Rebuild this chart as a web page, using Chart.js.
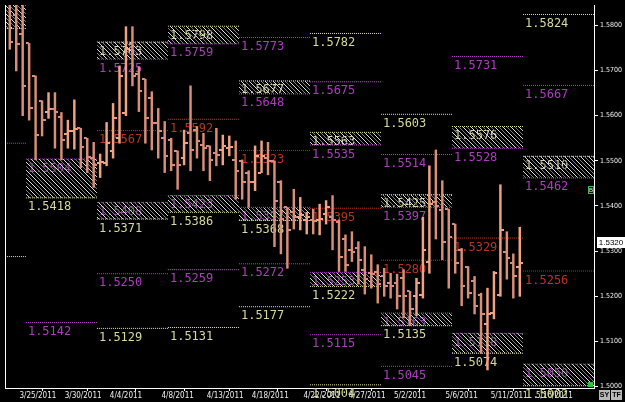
<!DOCTYPE html>
<html><head><meta charset="utf-8">
<script src="https://cdn.jsdelivr.net/npm/chart.js@4.4.1/dist/chart.umd.min.js"></script>
<style>html,body{margin:0;padding:0;background:#000;overflow:hidden}canvas{display:block}</style>
</head><body>
<canvas id="c" width="625" height="402"></canvas>
<script>
// ---------- DATA ----------
// bar slot index (week k occupies slots 11k .. 11k+10)
const barSlot = [-3,-2,-1,0,1,2,3,4,5,6,7,8,9,10,11,12,13,14,15,16,17,18,19,20,21,22,23,24,25,26,27,28,29,30,31,32,33,34,35,36,37,38,39,40,41,42,43,44,45,46,47,48,49,50,51,52,53,54,55,56,57,58,59,60,61,62,63,64,65,66,67,68,69,70,71,72,73,74,75,76];
const highs = [1.5870,1.5870,1.5860,1.5760,1.5688,1.5633,1.5651,1.5651,1.5607,1.5590,1.5635,1.5572,1.5550,1.5541,1.5515,1.5585,1.5627,1.5710,1.5797,1.5797,1.5708,1.5681,1.5653,1.5616,1.5587,1.5550,1.5522,1.5568,1.5666,1.5576,1.5561,1.5533,1.5572,1.5557,1.5555,1.5544,1.5502,1.5478,1.5533,1.5544,1.5541,1.5500,1.5456,1.5397,1.5437,1.5419,1.5386,1.5393,1.5404,1.5412,1.5423,1.5369,1.5336,1.5343,1.5321,1.5310,1.5292,1.5270,1.5262,1.5251,1.5249,1.5259,1.5211,1.5240,1.5375,1.5489,1.5524,1.5456,1.5393,1.5360,1.5306,1.5266,1.5244,1.5207,1.5218,1.5255,1.5447,1.5343,1.5294,1.5353];
const lows  = [1.5747,1.5699,1.5600,1.5590,1.5502,1.5555,1.5594,1.5528,1.5502,1.5528,1.5526,1.5485,1.5474,1.5441,1.5463,1.5489,1.5506,1.5539,1.5600,1.5666,1.5609,1.5539,1.5524,1.5506,1.5474,1.5478,1.5437,1.5491,1.5478,1.5506,1.5478,1.5456,1.5489,1.5491,1.5511,1.5415,1.5415,1.5397,1.5434,1.5474,1.5469,1.5310,1.5294,1.5262,1.5349,1.5347,1.5338,1.5338,1.5336,1.5360,1.5303,1.5255,1.5255,1.5277,1.5227,1.5205,1.5218,1.5185,1.5200,1.5196,1.5172,1.5152,1.5135,1.5157,1.5196,1.5251,1.5327,1.5281,1.5218,1.5251,1.5179,1.5196,1.5161,1.5074,1.5037,1.5150,1.5200,1.5238,1.5196,1.5200];
const opens = [1.5850,1.5823,1.5780,1.5760,1.5688,1.5633,1.5609,1.5614,1.5598,1.5560,1.5565,1.5572,1.5550,1.5506,1.5496,1.5496,1.5522,1.5550,1.5605,1.5758,1.5692,1.5681,1.5638,1.5583,1.5550,1.5546,1.5522,1.5506,1.5561,1.5568,1.5535,1.5533,1.5517,1.5524,1.5528,1.5502,1.5500,1.5474,1.5452,1.5474,1.5506,1.5500,1.5454,1.5397,1.5386,1.5375,1.5369,1.5369,1.5369,1.5382,1.5375,1.5364,1.5327,1.5303,1.5306,1.5259,1.5251,1.5253,1.5244,1.5229,1.5229,1.5240,1.5211,1.5200,1.5204,1.5277,1.5408,1.5391,1.5393,1.5360,1.5303,1.5266,1.5233,1.5204,1.5139,1.5163,1.5204,1.5299,1.5273,1.5266];
const closes= [1.5762,1.5758,1.5666,1.5618,1.5557,1.5590,1.5614,1.5609,1.5546,1.5566,1.5570,1.5530,1.5509,1.5491,1.5498,1.5539,1.5594,1.5688,1.5747,1.5688,1.5655,1.5594,1.5583,1.5565,1.5511,1.5491,1.5491,1.5539,1.5524,1.5544,1.5528,1.5502,1.5513,1.5533,1.5530,1.5478,1.5452,1.5452,1.5511,1.5511,1.5500,1.5412,1.5371,1.5347,1.5375,1.5380,1.5375,1.5367,1.5372,1.5397,1.5369,1.5288,1.5270,1.5299,1.5281,1.5238,1.5250,1.5227,1.5222,1.5222,1.5200,1.5200,1.5172,1.5229,1.5303,1.5404,1.5400,1.5320,1.5332,1.5273,1.5222,1.5207,1.5179,1.5161,1.5161,1.5251,1.5347,1.5285,1.5244,1.5273];

// single horizontal weekly levels: week, value, kind (y = yellow, m = magenta, r = red pivot)
const levelWeek  = [-1,-1, 0, 1,1,1, 2,2,2, 3,3,3,3, 4,4,4,4,4, 5,5,5,5, 6,6, 7,7,7];
const levelValue = [1.5539,1.5288, 1.5142, 1.5567,1.5250,1.5129, 1.5592,1.5259,1.5131, 1.5773,1.5523,1.5272,1.5177, 1.5782,1.5675,1.5395,1.5115,1.5004, 1.5603,1.5514,1.5280,1.5045, 1.5731,1.5329, 1.5824,1.5667,1.5256];
const levelKind  = ['m','y', 'm', 'r','m','y', 'r','m','y', 'm','r','m','y', 'y','m','r','m','y', 'y','m','r','m', 'm','r', 'y','m','r'];

// hatched weekly zones: week, top, bottom, side (up = yellow top / magenta bottom, lo = magenta top / yellow bottom)
const boxWeek   = [-1, 0, 1, 1, 2, 2, 3, 3, 4, 4, 5, 5, 6, 6, 7, 7];
const boxTop    = [1.5870,1.5504,1.5763,1.5408,1.5798,1.5423,1.5677,1.5397,1.5563,1.5253,1.5425,1.5163,1.5576,1.5118,1.5510,1.5050];
const boxBottom = [1.5793,1.5418,1.5725,1.5371,1.5759,1.5386,1.5648,1.5368,1.5535,1.5222,1.5397,1.5135,1.5528,1.5074,1.5462,1.5002];
const boxSide   = ['lo','lo','up','lo','up','lo','up','lo','up','lo','up','lo','up','lo','up','lo'];

const dateTickSlot  = [-1,6,13,21,28,35,43,50,57,65,72,79];
const dateTickLabel = ['3/25/2011','3/30/2011','4/4/2011','4/8/2011','4/13/2011','4/18/2011','4/22/2011','4/27/2011','5/2/2011','5/6/2011','5/11/2011','5/16/2011'];
const priceTicks = [1.50,1.51,1.52,1.53,1.54,1.55,1.56,1.57,1.58];
const lastPrice = 1.5320;
const weekLen = 11;

// ---------- STYLE ----------
const lineCol = {y:'#e4e4a8', m:'#b044c4', r:'#b83220'};
const textCol = {y:'#d8d89a', m:'#a840b8', r:'#b83424'};
const upCol = '#f0a282', dnCol = '#d88e78';
const labelFont = '12px "DejaVu Sans Mono", monospace';
const axisFont = "'Liberation Sans Narrow','DejaVu Sans Condensed','Liberation Sans',sans-serif";

const cv = document.getElementById('c');
const cctx = cv.getContext('2d');
function makeHatch(){
  const t = document.createElement('canvas'); t.width = 8; t.height = 8;
  const g = t.getContext('2d');
  for (let yy=0; yy<8; yy++) for (let xx=0; xx<8; xx++){
    const d = ((xx-yy)%8+8)%8;
    if (d===0){g.fillStyle='#dcdcdc';g.fillRect(xx,yy,1,1);}
    else if (d===4){g.fillStyle='#7a7a7a';g.fillRect(xx,yy,1,1);}
  }
  return cctx.createPattern(t,'repeat');
}
const hatch = makeHatch();
function tickImg(color, side){
  const t = document.createElement('canvas'); t.width = 7; t.height = 2;
  const g = t.getContext('2d'); g.fillStyle = color;
  if (side==='L') g.fillRect(0,0,3,2); else g.fillRect(4,0,3,2);
  return t;
}
const imgs = {oU:tickImg(upCol,'L'), oD:tickImg(dnCol,'L'), cU:tickImg(upCol,'R'), cD:tickImg(dnCol,'R')};
const isUp = closes.map((c,i)=> c >= opens[i]);

// ---------- DATASETS ----------
const datasets = [];
datasets.push({
  type:'bar', order:0, grouped:false,
  data: barSlot.map((s,i)=>({x:s+0.5, y:[lows[i], highs[i]]})),
  backgroundColor: isUp.map(u=>u?upCol:dnCol),
  borderWidth:0, barThickness:1.8
});
datasets.push({
  type:'scatter', order:0,
  data: barSlot.map((s,i)=>({x:s+0.5, y:opens[i]})),
  pointStyle: isUp.map(u=>u?imgs.oU:imgs.oD), pointRadius:1
});
datasets.push({
  type:'scatter', order:0,
  data: barSlot.map((s,i)=>({x:s+0.5, y:closes[i]})),
  pointStyle: isUp.map(u=>u?imgs.cU:imgs.cD), pointRadius:1
});
levelWeek.forEach((w,i)=>{
  datasets.push({type:'line', order:2,
    data:[{x:w*weekLen, y:levelValue[i]},{x:w*weekLen+weekLen, y:levelValue[i]}],
    borderColor: lineCol[levelKind[i]], borderWidth:1, borderDash:[1,1], pointRadius:0, fill:false});
});
boxWeek.forEach((w,i)=>{
  const topKind = boxSide[i]==='up' ? 'y' : 'm';
  const botKind = boxSide[i]==='up' ? 'm' : 'y';
  datasets.push({type:'line', order:3,
    data:[{x:w*weekLen, y:boxTop[i]},{x:w*weekLen+weekLen, y:boxTop[i]}],
    borderColor: lineCol[topKind], borderWidth:1, borderDash:[1,1], pointRadius:0,
    fill:{value: boxBottom[i]}, backgroundColor: hatch});
  datasets.push({type:'line', order:2,
    data:[{x:w*weekLen, y:boxBottom[i]},{x:w*weekLen+weekLen, y:boxBottom[i]}],
    borderColor: lineCol[botKind], borderWidth:1, borderDash:[1,1], pointRadius:0, fill:false});
});

// ---------- PLUGINS ----------
const levelLabels = {
  id:'levelLabels',
  beforeDatasetsDraw(chart){
    const {ctx, scales:{x, y}} = chart;
    ctx.save();
    ctx.font = labelFont; ctx.textAlign='left'; ctx.textBaseline='alphabetic';
    const put = (w, v, kind) => {
      ctx.fillStyle = textCol[kind];
      ctx.fillText(v.toFixed(4), x.getPixelForValue(w*weekLen)+2, y.getPixelForValue(v)+12.5);
    };
    levelWeek.forEach((w,i)=>put(w, levelValue[i], levelKind[i]));
    boxWeek.forEach((w,i)=>{
      put(w, boxTop[i], boxSide[i]==='up'?'y':'m');
      put(w, boxBottom[i], boxSide[i]==='up'?'m':'y');
    });
    ctx.restore();
  }
};
const decor = {
  id:'decor',
  afterDraw(chart){
    const {ctx, chartArea:a, scales:{y}} = chart;
    ctx.save();
    ctx.strokeStyle='#ffffff'; ctx.lineWidth=1;
    ctx.beginPath(); ctx.moveTo(a.left+0.5, a.top); ctx.lineTo(a.left+0.5, a.bottom); ctx.stroke();
    // last price marker
    const py = Math.round(y.getPixelForValue(lastPrice));
    ctx.fillStyle='#ffffff'; ctx.fillRect(a.right+3, py-5, 28, 11);
    ctx.fillStyle='#000000'; ctx.font="8px 'Liberation Sans',sans-serif"; ctx.textAlign='center'; ctx.textBaseline='middle';
    ctx.fillText(lastPrice.toFixed(4), a.right+17, py+0.5);
    // small markers
    ctx.fillStyle='#22cc33'; ctx.fillRect(a.right-6, a.bottom-6, 5, 5);
    ctx.strokeStyle='#2fbf4a'; ctx.strokeRect(a.right-5.5, 186.5, 5, 7);
    ctx.fillStyle='#e0ffe0'; ctx.font="6px 'Liberation Sans',sans-serif"; ctx.fillText('B', a.right-3, 190.5);
    // SY / TF buttons
    ctx.fillStyle='#b8b8b8'; ctx.fillRect(599, 390, 11, 10); ctx.fillRect(611, 390, 11, 10);
    ctx.fillStyle='#000'; ctx.font="bold 7px 'Liberation Sans',sans-serif";
    ctx.fillText('SY', 604.5, 395.5); ctx.fillText('TF', 616.5, 395.5);
    ctx.restore();
  }
};

// ---------- CHART ----------
new Chart(cv, {
  type:'bar',
  data:{datasets},
  plugins:[levelLabels, decor],
  options:{
    responsive:false, animation:false, devicePixelRatio:1, events:[],
    layout:{padding:{left:3, top:0, right:0, bottom:0}},
    plugins:{legend:{display:false}, tooltip:{enabled:false}},
    scales:{
      x:{type:'linear', min:-3.24, max:88, offset:false,
        afterBuildTicks:s=>{ s.ticks = dateTickSlot.map(v=>({value:v})); },
        ticks:{autoSkip:false, maxRotation:0, align:'start', color:'#f0f0f0', padding:0,
          font:{family:axisFont, size:8}, callback:(v,i)=>dateTickLabel[i]},
        grid:{drawOnChartArea:false, drawTicks:true, tickLength:3, color:'#ffffff'},
        border:{display:true, color:'#ffffff', width:1},
        afterFit:s=>{ s.height = 14; s.paddingLeft=0; s.paddingRight=0; }
      },
      y:{type:'linear', position:'right', min:1.4997, max:1.5845,
        afterBuildTicks:s=>{ s.ticks = priceTicks.map(v=>({value:v})); },
        ticks:{color:'#f0f0f0', padding:2, font:{family:axisFont, size:7}, callback:v=>v.toFixed(4)},
        grid:{drawOnChartArea:false, drawTicks:true, tickLength:4, color:'#ffffff'},
        border:{display:true, color:'#ffffff', width:1},
        afterFit:s=>{ s.width = 31; s.paddingTop=0; s.paddingBottom=0; }
      }
    }
  }
});
</script>
</body></html>
